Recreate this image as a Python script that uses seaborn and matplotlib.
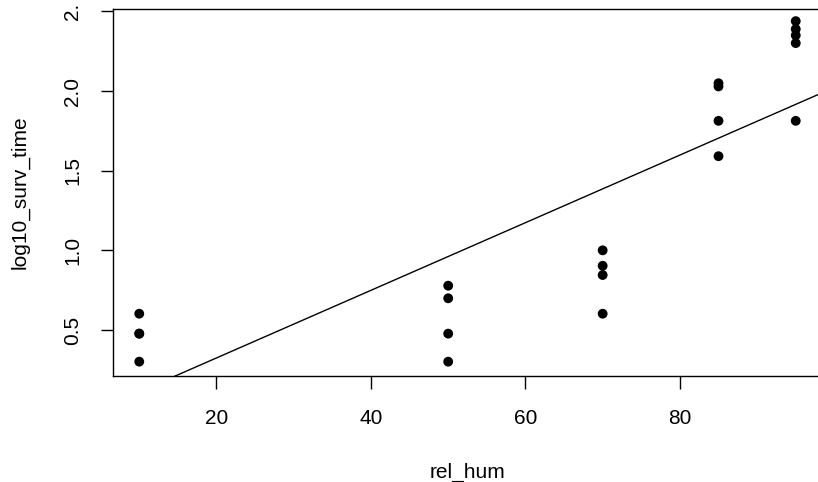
import numpy as np
import pandas as pd
import matplotlib
matplotlib.use("Agg")
import matplotlib.pyplot as plt
import seaborn as sns

# valores (log10 del tiempo de supervivencia)
rel_hum = [10, 10, 10, 10,
           50, 50, 50, 50,
           70, 70, 70, 70,
           85, 85, 85, 85,
           95, 95, 95, 95, 95]
log10_surv_time = [0.602, 0.477, 0.477, 0.301,
                   0.778, 0.699, 0.477, 0.301,
                   1.000, 0.903, 0.845, 0.602,
                   2.049, 2.029, 1.813, 1.591,
                   2.439, 2.389, 2.350, 2.301, 1.813]
x_ticks = [20, 40, 60, 80]
y_ticks = [0.5, 1.0, 1.5, 2.0, 2.5]
# la etiqueta de arriba sale cortada en el original
y_tick_labels = ["0.5", "1.0", "1.5", "2.0", "2."]

df = pd.DataFrame({"rel_hum": rel_hum, "log10_surv_time": log10_surv_time})

sns.set_style("white")
plt.rcParams["font.family"] = ["Liberation Sans", "DejaVu Sans"]
plt.rcParams["text.color"] = "black"
plt.rcParams["axes.labelcolor"] = "black"
plt.rcParams["xtick.color"] = "black"
plt.rcParams["ytick.color"] = "black"

fig = plt.figure(figsize=(8.18, 4.82), dpi=100)
W, H = 818, 482
left, right, top, bottom = 113, 822, 8.7, 376
ax = fig.add_axes([left / W, (H - bottom) / H, (right - left) / W, (bottom - top) / H])

ax.set_xlim(6.6, 98.4)
ax.set_ylim(0.211, 2.517)

sns.regplot(data=df, x="rel_hum", y="log10_surv_time", ax=ax, ci=None,
            truncate=False, color="black",
            scatter_kws={"s": 50, "edgecolor": "none", "alpha": 1},
            line_kws={"linewidth": 1.0})

ax.set_xticks(x_ticks)
ax.set_yticks(y_ticks)
ax.set_yticklabels(y_tick_labels, rotation=90, va="center")
ax.tick_params(axis="both", direction="out", length=9, width=1, labelsize=15,
               color="black", labelcolor="black", left=True, bottom=True)
ax.tick_params(axis="x", pad=15)
ax.tick_params(axis="y", pad=13)

for side in ["left", "bottom", "top", "right"]:
    ax.spines[side].set_color("black")
    ax.spines[side].set_linewidth(1.0)

ax.set_xlabel("rel_hum", fontsize=15, color="black")
ax.set_ylabel("log10_surv_time", fontsize=15, color="black")
ax.xaxis.set_label_coords(0.5, -0.237)
ax.yaxis.set_label_coords(-0.118, 0.5)

fig.savefig("out.png", dpi=100)
